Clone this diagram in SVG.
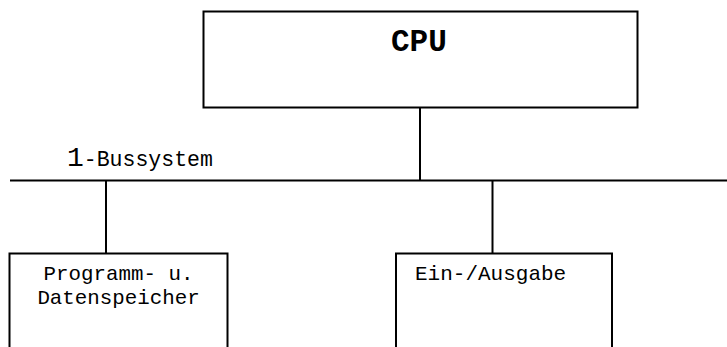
<svg xmlns="http://www.w3.org/2000/svg" width="727" height="347" viewBox="0 0 727 347">
<style>
.box{fill:#fff;stroke:#000;stroke-width:2}
.ln{stroke:#000;stroke-width:2;fill:none}
.t{font-family:"Liberation Mono","Courier New",monospace;fill:#000}
</style>
<rect width="727" height="347" fill="#fff"/>
<g id="connectors">
<line class="ln" x1="10" y1="180.5" x2="727" y2="180.5"/>
<line class="ln" x1="420" y1="108" x2="420" y2="180.5"/>
<line class="ln" x1="106" y1="180.5" x2="106" y2="253"/>
<line class="ln" x1="492.5" y1="180.5" x2="492.5" y2="253"/>
<text class="t" x="67" y="166" font-size="28">1<tspan font-size="21.5">-Bussystem</tspan></text>
</g>
<g id="cpu">
<rect class="box" x="203.5" y="11.5" width="434" height="96"/>
<text class="t" x="391" y="51" font-size="31" font-weight="bold">CPU</text>
</g>
<g id="speicher">
<rect class="box" x="9.5" y="253.5" width="218" height="100"/>
<text class="t" x="118.5" y="280" font-size="20.8" text-anchor="middle">Programm- u.</text>
<text class="t" x="118.5" y="304" font-size="20.8" text-anchor="middle">Datenspeicher</text>
</g>
<g id="io">
<rect class="box" x="396" y="253.5" width="216" height="100"/>
<text class="t" x="415" y="280" font-size="21">Ein-/Ausgabe</text>
</g>
</svg>
